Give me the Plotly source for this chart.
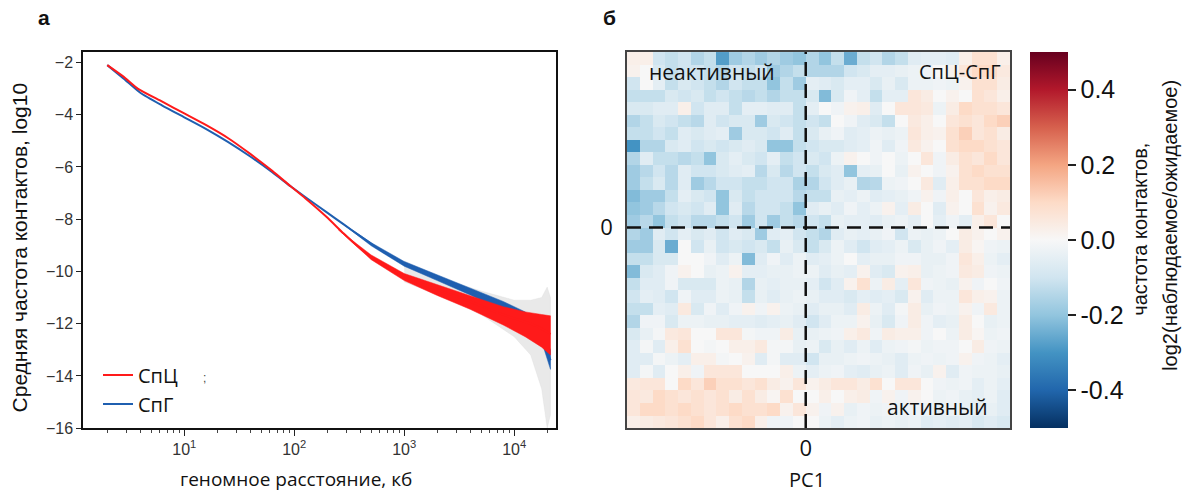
import numpy as np
import plotly.graph_objects as go

W, H = 1186, 498

# ---------------- panel a data (log10 distance in kb, log10 contact frequency) -------------
red_logx = [0.30, 0.45, 0.58, 0.8, 1.0, 1.2, 1.4, 1.6, 1.8, 1.97, 2.1, 2.29, 2.45, 2.58, 2.7,
            2.85, 3.0, 3.2, 3.4, 3.6, 3.8, 4.0, 4.15, 4.25, 4.33]
red_y = [-2.10, -2.55, -3.01, -3.5, -3.95, -4.4, -4.9, -5.5, -6.15, -6.75, -7.2, -7.9, -8.55,
         -9.05, -9.45, -9.85, -10.2, -10.55, -10.85, -11.15, -11.5, -11.8, -12.0, -12.2, -12.4]
blue_logx = [0.30, 0.45, 0.60, 0.8, 1.0, 1.2, 1.4, 1.6, 1.8, 1.97, 2.1, 2.29, 2.45, 2.6, 2.72,
             2.85, 3.0, 3.2, 3.4, 3.6, 3.8, 4.0, 4.1, 4.2, 4.27, 4.33]
blue_y = [-2.10, -2.62, -3.16, -3.65, -4.1, -4.55, -5.05, -5.6, -6.2, -6.75, -7.15, -7.72, -8.2,
          -8.65, -9.0, -9.35, -9.7, -10.05, -10.4, -10.75, -11.1, -11.5, -11.75, -12.2, -12.7, -13.4]

red_band_logx = [2.4, 2.7, 3.0, 3.3, 3.6, 3.9, 4.1, 4.25, 4.33]
red_hi = [-8.4, -9.37, -10.08, -10.52, -10.93, -11.35, -11.55, -11.65, -11.7]
red_lo = [-8.4, -9.55, -10.35, -10.92, -11.45, -12.05, -12.5, -12.9, -13.2]
blue_band_logx = [2.4, 2.7, 3.0, 3.3, 3.6, 3.9, 4.1, 4.2, 4.27, 4.33]
blue_hi = [-8.05, -8.9, -9.62, -10.12, -10.62, -11.15, -11.55, -11.95, -12.4, -13.0]
blue_lo = [-8.05, -9.02, -9.8, -10.35, -10.9, -11.5, -12.0, -12.45, -12.95, -13.75]
gray_band_logx = [3.0, 3.4, 3.7, 4.0, 4.15, 4.25, 4.3, 4.33]
gray_hi = [-9.6, -10.35, -10.75, -11.1, -11.1, -11.0, -10.6, -11.0]
gray_lo = [-10.4, -11.05, -11.65, -12.5, -13.2, -14.5, -16.0, -15.5]

y_ticks = [-2, -4, -6, -8, -10, -12, -14, -16]
x_ticks = [10, 100, 1000, 10000]
x_ticktext = ["10<sup>1</sup>", "10<sup>2</sup>", "10<sup>3</sup>", "10<sup>4</sup>"]

# ---------------- panel b data (log2 obs/exp, hundredths), 30 x 30 PC1 bins -------------
saddle = [
    [3,3,-10,-12,-10,-15,-12,-28,-18,-15,-18,-15,-18,-20,-15,-20,-12,-25,-12,-10,-15,-12,-6,-5,-5,-6,3,8,8,3],
    [2,0,-8,-12,-10,-10,-12,-15,-10,-12,-10,-18,-15,-12,-15,-15,-15,-10,-8,-5,-5,-4,-3,-2,0,2,6,10,10,5],
    [-10,0,-5,-12,-8,-10,-12,-15,-10,-12,-12,-20,-12,-18,-5,-6,-8,-5,-5,-8,-4,-8,-3,-3,-2,-3,2,8,8,4],
    [-12,-12,-12,-8,-10,-8,-12,-10,-12,-14,-12,-15,-12,-12,-8,-22,-8,-2,-5,-12,-5,-5,6,4,0,2,0,8,6,3],
    [-8,-8,-6,-6,3,-10,-6,-6,-12,-5,-5,-6,-6,-12,-5,0,-2,2,3,-6,0,6,6,5,-3,4,10,8,8,6],
    [-15,-12,-8,-10,-12,-14,-6,-10,-8,-8,-18,-8,-10,-12,-10,-12,0,-2,-6,-8,-12,0,5,3,0,6,8,6,10,12],
    [-12,-12,-10,-12,-6,-8,-6,-5,-18,-8,-8,-10,-6,-12,-8,-4,-2,-6,-5,-3,-4,-3,6,3,2,8,12,6,8,4],
    [-30,-15,-15,-8,-6,-10,-8,-10,-8,-6,-8,-20,-20,-12,-10,-8,-8,-6,-5,-2,-6,-2,5,2,0,8,10,10,8,6],
    [-15,-6,-12,-12,-14,-12,-20,-8,-5,-8,-10,-5,-12,-10,-8,-10,-3,2,0,-2,0,-3,0,6,-2,4,8,6,10,6],
    [-18,-14,-10,-14,-6,-10,-10,-8,-6,-5,-14,-8,-14,-10,-12,-8,-6,-20,-5,-4,0,-4,2,0,-2,2,8,10,8,8],
    [-18,-12,-8,-14,-6,-18,-14,-10,-10,-12,-12,-10,-10,-16,-15,-10,-6,-4,-15,-14,-3,-2,0,5,-6,3,8,8,10,10],
    [-22,-18,-18,-12,-5,-8,-10,-20,-8,-12,-10,-10,-10,-14,-12,-12,-4,-5,-3,-6,-5,-4,-2,2,-2,3,0,6,3,4],
    [-20,-18,-14,-10,-8,-10,-6,-20,-6,-14,-10,-10,-12,-20,-6,-4,-6,-2,-5,-3,2,-5,4,0,-6,2,0,8,2,5],
    [-18,-14,-20,-12,-10,-14,-14,-12,-10,-18,-10,-18,-12,-14,-10,-12,-4,-5,-5,-6,-4,-3,-5,0,-5,-2,-5,3,6,0],
    [-15,-18,-6,-10,-5,-8,-6,-10,-6,-8,-18,-6,-5,-10,-12,-15,-6,-4,-5,-4,-2,-10,-3,-4,-3,0,4,2,0,2],
    [-18,-18,-8,-25,0,-10,-4,-10,-8,-10,-8,-12,-4,-8,-12,-8,-3,-6,-10,-6,-5,-3,-8,-4,-2,-5,4,1,-2,-3],
    [-12,-12,-8,-8,0,0,-2,-6,-3,-22,-6,-2,-6,-3,-6,-5,-3,0,-5,-4,-4,-2,-2,-4,-4,-2,6,3,-3,-5],
    [-22,-8,-6,-2,2,0,-4,-3,2,-5,-5,-4,-4,-3,-3,-6,-4,-5,2,-6,-8,2,3,-4,-3,-2,5,4,-2,-3],
    [-12,-6,-6,-2,-8,-8,-8,-3,-4,-15,-4,-5,-4,-4,-5,-10,-6,2,8,-3,4,-5,6,-2,-3,-4,2,-2,0,-2],
    [-10,-5,-6,-10,-2,-6,-6,-3,-4,-12,-4,-6,-4,-3,-4,-6,-6,-8,-5,-6,-5,-8,2,-6,-3,-3,6,3,2,-3],
    [-12,-12,-5,-6,5,-8,-2,-6,-2,2,-2,2,-3,-4,-6,-4,-4,-6,4,-3,-6,-1,4,-4,-2,-3,2,-2,5,-3],
    [-15,-2,-2,-8,-3,-3,-4,-4,-5,-5,-6,-5,-4,-6,-10,-6,-3,-3,2,-4,-8,-2,4,-2,-5,-4,4,0,-4,-3],
    [-8,-4,-1,5,6,0,0,6,6,-1,-2,-2,4,-4,-4,-3,-2,3,5,-2,4,3,3,-2,0,-3,4,1,-3,-2],
    [-6,-1,-6,3,8,0,-1,0,3,3,5,-1,-1,-4,-3,-8,-4,-6,-3,-6,-3,-2,-1,-3,-2,-2,0,4,-2,-3],
    [-6,-6,-1,-3,-5,3,3,-1,0,2,-6,-1,-6,-6,-10,-4,-4,-3,-2,-3,-4,-6,-3,-2,-3,-2,2,-2,-3,-5],
    [-6,-1,-6,0,3,-2,6,6,6,0,0,0,3,-3,-5,-3,-2,-5,-6,-4,-3,-6,-2,-4,2,-6,-2,-3,-3,-4],
    [5,6,6,0,10,6,12,8,8,6,8,4,2,6,2,4,6,6,4,8,0,6,6,0,-2,-3,-2,-5,-3,-5],
    [6,5,10,8,6,8,6,8,4,8,4,1,8,0,0,3,0,3,4,-2,2,-2,2,0,-3,-2,-4,-5,-3,-6],
    [6,10,10,8,10,8,6,8,10,8,8,10,2,6,2,-2,2,-4,-2,-3,-2,-3,-2,-3,-4,-3,-4,-5,-4,-6],
    [3,4,5,6,8,10,6,3,8,10,3,-2,-2,0,0,-3,-5,-3,-2,-4,-3,-4,-3,-6,-5,-6,-5,-8,-6,-8],
]
n_bins = 30
zero_bin = 14          # PC1 = 0 lies between bin 13 and bin 14
cb_ticks = [-0.4, -0.2, 0.0, 0.2, 0.4]
cb_ticktext = ["-0.4", "-0.2", "0.0", "0.2", "0.4"]

rdbu_r = [
    [0.0, "rgb(5,48,97)"], [0.1, "rgb(33,102,172)"], [0.2, "rgb(67,147,195)"],
    [0.3, "rgb(146,197,222)"], [0.4, "rgb(209,229,240)"], [0.5, "rgb(247,247,247)"],
    [0.6, "rgb(253,219,199)"], [0.7, "rgb(244,165,130)"], [0.8, "rgb(214,96,77)"],
    [0.9, "rgb(178,24,43)"], [1.0, "rgb(103,0,31)"],
]

RED = "#ff1a1a"
BLUE = "#1f5fb0"

# ---------------- figure ----------------
px = lambda v: v / W
py = lambda v: 1 - v / H

fig = go.Figure()

def band(lx, hi, lo, color):
    xs = [10 ** v for v in lx] + [10 ** v for v in lx[::-1]]
    ys = list(hi) + list(lo[::-1])
    fig.add_trace(go.Scatter(x=xs, y=ys, mode="lines", fill="toself", fillcolor=color,
                             line=dict(width=0.5, color=color), showlegend=False, hoverinfo="skip",
                             xaxis="x", yaxis="y"))

band(gray_band_logx, gray_hi, gray_lo, "rgba(215,215,215,0.55)")
band(blue_band_logx, blue_hi, blue_lo, BLUE)
fig.add_trace(go.Scatter(x=[10 ** v for v in blue_logx], y=blue_y, mode="lines",
                         line=dict(color=BLUE, width=2, shape="spline", smoothing=0.6),
                         name="СпГ", legendrank=2, xaxis="x", yaxis="y"))
band(red_band_logx, red_hi, red_lo, RED)
fig.add_trace(go.Scatter(x=[10 ** v for v in red_logx], y=red_y, mode="lines",
                         line=dict(color=RED, width=2, shape="spline", smoothing=0.6),
                         name="СпЦ", legendrank=1, xaxis="x", yaxis="y"))

centers = [i - zero_bin + 0.5 for i in range(n_bins)]
y_centers = [zero_bin - 0.5 - i for i in range(n_bins)]
z = [[v / 100 for v in row] for row in saddle]

fig.add_trace(go.Heatmap(
    z=z, x=centers, y=y_centers, colorscale=rdbu_r, zmin=-0.5, zmax=0.5,
    xaxis="x2", yaxis="y2", showscale=True, hoverinfo="skip",
    colorbar=dict(x=px(1030), xanchor="left", xpad=0, ypad=0, thickness=38,
                  thicknessmode="pixels", len=383 / H, lenmode="fraction",
                  y=py(244.5), yanchor="middle",
                  outlinewidth=0, tickvals=cb_ticks, ticktext=cb_ticktext,
                  ticks="outside", ticklen=8, tickcolor="#222", tickwidth=1.5,
                  tickfont=dict(family="Liberation Sans, Arial", size=25, color="#111")),
))

dom_y = [py(436), py(53)]
fig.update_layout(
    width=W, height=H, margin=dict(l=0, r=0, t=0, b=0),
    paper_bgcolor="white", plot_bgcolor="white",
    xaxis=dict(domain=[px(83), px(556)], type="log", range=[np.log10(1.2), np.log10(24000)],
               tickvals=x_ticks, ticktext=x_ticktext, ticks="outside", ticklen=6,
               tickcolor="#222", tickwidth=1.2,
               minor=dict(tickvals=[m * 10 ** d for d in range(0, 5) for m in range(2, 10)],
                          ticks="outside", ticklen=3, tickcolor="#444", showgrid=False),
               showline=True, linecolor="#111", linewidth=1.5, mirror=True, showgrid=False,
               zeroline=False, tickfont=dict(family="Liberation Sans, Arial", size=16, color="#333")),
    yaxis=dict(domain=dom_y, range=[-16, -1.6], tickvals=y_ticks, ticks="outside", ticklen=5,
               tickcolor="#222", tickwidth=1.2,
               showline=True, linecolor="#111", linewidth=1.5, mirror=True, showgrid=False,
               zeroline=False, tickfont=dict(family="Liberation Sans, Arial", size=16, color="#333")),
    xaxis2=dict(domain=[px(627), px(1010)], range=[-zero_bin, n_bins - zero_bin], anchor="y2",
                tickvals=[0], ticktext=["0"], ticks="", showgrid=False, zeroline=False,
                showline=True, linecolor="#444", linewidth=1.5, mirror=True,
                tickfont=dict(family="Open Sans", size=22, color="#111")),
    yaxis2=dict(domain=dom_y, range=[zero_bin - n_bins, zero_bin], anchor="x2",
                tickvals=[0], ticktext=["0"], ticks="", showgrid=False, zeroline=False,
                showline=True, linecolor="#444", linewidth=1.5, mirror=True,
                ticklabelstandoff=8,
                tickfont=dict(family="Open Sans", size=22, color="#111")),
    legend=dict(x=px(98), y=py(362), xanchor="left", yanchor="top", bgcolor="rgba(0,0,0,0)",
                font=dict(family="Open Sans", size=20, color="#111"), tracegroupgap=0),
    showlegend=True,
)

dash = dict(color="#111", width=2.5, dash="14px,8px")
fig.add_shape(type="line", xref="x2", yref="y2", x0=0, x1=0, y0=zero_bin - n_bins, y1=zero_bin, line=dash)
fig.add_shape(type="line", xref="x2", yref="y2", x0=-zero_bin, x1=n_bins - zero_bin, y0=0, y1=0, line=dash)

ann = [
    dict(text="<b>а</b>", x=px(44), y=py(18), font=dict(family="Liberation Sans, Arial", size=21)),
    dict(text="<b>б</b>", x=px(609), y=py(18), font=dict(family="Liberation Sans, Arial", size=21)),
    dict(text="Средняя частота контактов, log10", x=px(19), y=py(252), textangle=-90,
         font=dict(family="Liberation Sans, Arial", size=21)),
    dict(text="геномное расстояние, кб", x=px(296), y=py(488),
         font=dict(family="Open Sans", size=19)),
    dict(text=";", x=px(204), y=py(385), font=dict(family="Liberation Sans, Arial", size=12, color="#444")),
    dict(text="PC1", x=px(807), y=py(488), font=dict(family="Open Sans", size=20)),
    dict(text="неактивный", x=px(712), y=py(73), font=dict(family="Open Sans", size=21)),
    dict(text="СпЦ-СпГ", x=px(960), y=py(73), font=dict(family="Open Sans", size=20)),
    dict(text="активный", x=px(937), y=py(414), font=dict(family="Open Sans", size=21)),
    dict(text="частота контактов,", x=px(1140), y=py(234),
         textangle=-90, font=dict(family="Liberation Sans, Arial", size=20)),
    dict(text="log2(наблюдаемое/ожидаемое)", x=px(1170), y=py(230),
         textangle=-90, font=dict(family="Liberation Sans, Arial", size=20)),
]
for a in ann:
    a.setdefault("xref", "paper")
    a.setdefault("yref", "paper")
    a.setdefault("showarrow", False)
    a.setdefault("xanchor", "center")
    a.setdefault("yanchor", "middle")
    a["font"].setdefault("color", "#111")
    fig.add_annotation(**a)

fig.write_html(
    "out.html",
    config={"displayModeBar": False},
    post_script="document.body.style.margin='0px';document.body.style.padding='0px';"
                "document.documentElement.style.margin='0px';",
)
